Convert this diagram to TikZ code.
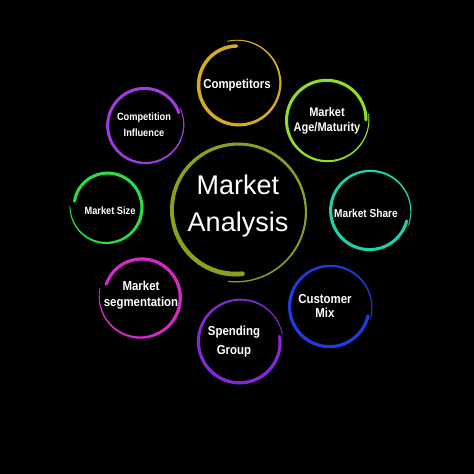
\documentclass[tikz,border=0pt]{standalone}
\usepackage{fontspec}
\setmainfont{Liberation Sans}
\newfontfamily\lblfont{Liberation Sans}[FakeStretch=0.88]
\usetikzlibrary{calc}
\definecolor{cmain}{RGB}{140,160,30}
\definecolor{ccomp}{RGB}{212,172,32}
\definecolor{cage}{RGB}{140,222,40}
\definecolor{cinfl}{RGB}{160,60,222}
\definecolor{csize}{RGB}{40,222,70}
\definecolor{cshare}{RGB}{30,210,172}
\definecolor{cseg}{RGB}{212,40,200}
\definecolor{cmix}{RGB}{30,60,222}
\definecolor{cspend}{RGB}{132,40,212}
\tikzset{
  lbl/.style={text=white, align=center, inner sep=0pt},
}
% #1 centre coordinate, #2 colour, #3 start angle, #4 sweep, #5 start radius, #6 end radius,
% #7 start width, #8 end width, #9 fraction of the stroke over which the width grows
\newcommand{\spiral}[9]{%
  \foreach \i in {0,...,89}{%
    \pgfmathsetmacro{\ta}{#3+(#4)/90*\i}%
    \pgfmathsetmacro{\tb}{#3+(#4)/90*(\i+1)}%
    \pgfmathsetmacro{\ra}{#5+(#6-#5)/90*\i}%
    \pgfmathsetmacro{\rb}{#5+(#6-#5)/90*(\i+1)}%
    \pgfmathsetmacro{\wd}{#7+(#8-#7)*min(1,(\i+0.5)/(90*#9))}%
    \draw[#2, line width=\wd pt, line cap=round] ($(#1)+(\ta:\ra pt)$) -- ($(#1)+(\tb:\rb pt)$);
  }}
\begin{document}
\begin{tikzpicture}[x=1pt,y=1pt]
\fill[black] (0,0) rectangle (474,474);
\useasboundingbox (0,0) rectangle (474,474);
% centres
\coordinate (c0) at (237,263);
\coordinate (c1) at (238,390);
\coordinate (c2) at (327,354);
\coordinate (c3) at (145,349);
\coordinate (c4) at (107,267);
\coordinate (c5) at (370,263);
\coordinate (c6) at (141,177);
\coordinate (c7) at (330,167);
\coordinate (c8) at (240,132);
% rings
\spiral{c0}{cmain}{263}{372}{71}{63}{1.2}{4.8}{1}
\spiral{c1}{ccomp}{104}{-372}{44}{38}{0.8}{3.4}{0.6}
\spiral{c2}{cage}{8}{-368}{42}{39}{0.8}{3.0}{0.5}
\spiral{c3}{cinfl}{25}{-365}{39}{36}{0.8}{3.0}{0.5}
\spiral{c4}{csize}{178}{352}{37}{33}{0.8}{3.0}{0.45}
\spiral{c5}{cshare}{-20}{365}{41}{38}{0.8}{3.0}{0.5}
\spiral{c6}{cseg}{168}{352}{42}{37}{0.8}{3.2}{0.45}
\spiral{c7}{cmix}{-15}{362}{42}{39}{0.8}{3.2}{0.5}
\spiral{c8}{cspend}{10}{358}{43}{40}{0.8}{3.2}{0.5}
% labels
\node[lbl, font=\fontsize{27}{37}\selectfont] (t0) at (238,268) {Market\\Analysis};
\node[lbl, font=\lblfont\bfseries\fontsize{13}{15}\selectfont] (t1) at (237,389) {Competitors};
\node[lbl, font=\lblfont\bfseries\fontsize{12.5}{15}\selectfont] (t2) at (327,353) {Market\\Age/Maturity};
\node[lbl, font=\lblfont\bfseries\fontsize{10.5}{16}\selectfont] (t3) at (144,349) {Competition\\Influence};
\node[lbl, font=\lblfont\bfseries\fontsize{10.5}{12}\selectfont] (t4) at (110,263) {Market Size};
\node[lbl, font=\lblfont\bfseries\fontsize{11.5}{12}\selectfont] (t5) at (366,261) {Market Share};
\node[lbl, font=\lblfont\bfseries\fontsize{13}{16}\selectfont] (t6) at (141,179) {Market\\segmentation};
\node[lbl, font=\lblfont\bfseries\fontsize{13}{14}\selectfont] (t7) at (325,168) {Customer\\Mix};
\node[lbl, font=\lblfont\bfseries\fontsize{13}{19}\selectfont] (t8) at (234,132) {Spending\\Group};
\end{tikzpicture}
\end{document}
